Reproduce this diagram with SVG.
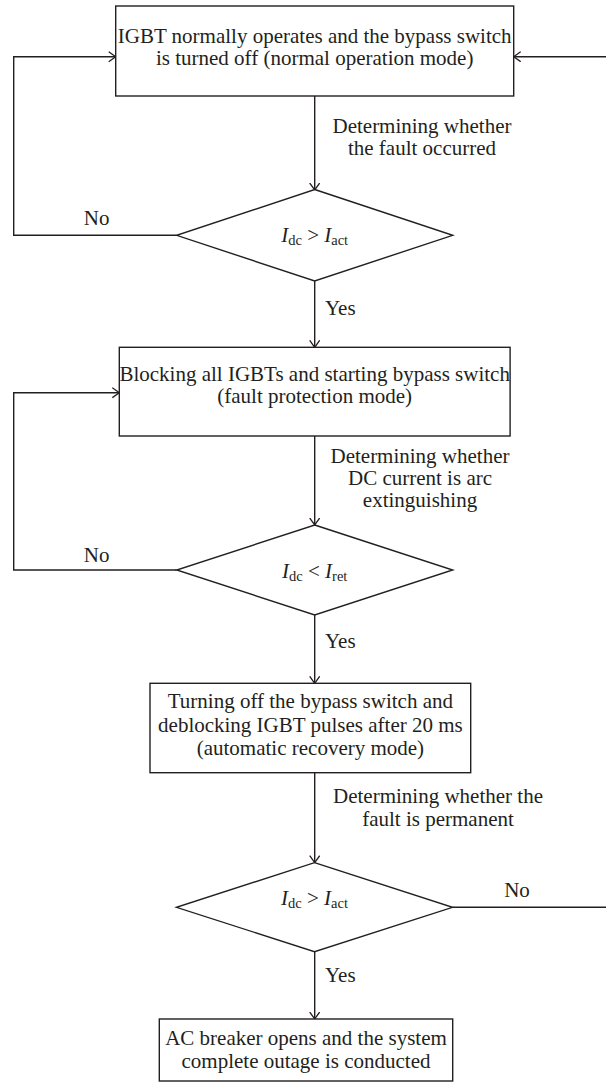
<svg xmlns="http://www.w3.org/2000/svg" width="606" height="1085" viewBox="0 0 606 1085">
<style>
.shape{fill:#fff;stroke:#231f20;stroke-width:1.4}
.conn{fill:none;stroke:#231f20;stroke-width:1.4}
text{font-family:"Liberation Serif","Times New Roman",serif;font-size:21px;fill:#231f20}
.c{text-anchor:middle}
.it{font-style:italic}
.sub{font-size:14.5px}
</style>
<defs>
<marker id="arr" markerUnits="userSpaceOnUse" markerWidth="10" markerHeight="12" refX="7.5" refY="5.5" orient="auto" viewBox="0 0 10 12">
<path d="M0.5,0.5 L7.5,5.5 L0.5,10.5" fill="none" stroke="#231f20" stroke-width="1.3"/>
</marker>
</defs>
<g id="connectors">
<line class="conn" x1="314.7" y1="96" x2="314.7" y2="190" marker-end="url(#arr)"/>
<polyline class="conn" points="176.7,235.3 13.7,235.3 13.7,56.7 115.7,56.7" marker-end="url(#arr)"/>
<line class="conn" x1="314.7" y1="281" x2="314.7" y2="347.3" marker-end="url(#arr)"/>
<line class="conn" x1="314.7" y1="436" x2="314.7" y2="525" marker-end="url(#arr)"/>
<polyline class="conn" points="176.7,570 13.7,570 13.7,392.7 119.3,392.7" marker-end="url(#arr)"/>
<line class="conn" x1="314.7" y1="615" x2="314.7" y2="683.3" marker-end="url(#arr)"/>
<line class="conn" x1="314.7" y1="772.7" x2="314.7" y2="862.7" marker-end="url(#arr)"/>
<line class="conn" x1="452.5" y1="907.3" x2="606" y2="907.3"/>
<line class="conn" x1="606" y1="56.7" x2="513.7" y2="56.7" marker-end="url(#arr)"/>
<line class="conn" x1="314.7" y1="951.7" x2="314.7" y2="1019" marker-end="url(#arr)"/>
<text x="422" y="133" class="c">Determining whether</text>
<text x="422" y="155" class="c">the fault occurred</text>
<text x="325" y="315">Yes</text>
<text x="96.7" y="225" class="c">No</text>
<text x="420" y="463" class="c">Determining whether</text>
<text x="420" y="485" class="c">DC current is arc</text>
<text x="420" y="507" class="c">extinguishing</text>
<text x="96.7" y="561.7" class="c">No</text>
<text x="325" y="648">Yes</text>
<text x="438" y="803" class="c">Determining whether the</text>
<text x="438" y="826" class="c">fault is permanent</text>
<text x="517" y="897" class="c">No</text>
<text x="325" y="982">Yes</text>
</g>
<g id="box1">
<rect class="shape" x="115.7" y="6" width="398" height="90"/>
<text x="314.7" y="43" class="c">IGBT normally operates and the bypass switch</text>
<text x="314.7" y="65" class="c">is turned off (normal operation mode)</text>
</g>
<g id="decision1">
<polygon class="shape" points="314.7,189.5 452.7,235.3 314.7,281 176.7,235.3"/>
<text x="314.7" y="242" class="c"><tspan class="it">I</tspan><tspan class="sub" dy="3">dc</tspan><tspan dy="-3"> &gt; </tspan><tspan class="it">I</tspan><tspan class="sub" dy="3">act</tspan></text>
</g>
<g id="box2">
<rect class="shape" x="119.3" y="347.3" width="390.8" height="88.7"/>
<text x="314.7" y="381" class="c">Blocking all IGBTs and starting bypass switch</text>
<text x="314.7" y="403" class="c">(fault protection mode)</text>
</g>
<g id="decision2">
<polygon class="shape" points="314.7,525 452.7,570 314.7,615 176.7,570"/>
<text x="314.7" y="578" class="c"><tspan class="it">I</tspan><tspan class="sub" dy="3">dc</tspan><tspan dy="-3"> &lt; </tspan><tspan class="it">I</tspan><tspan class="sub" dy="3">ret</tspan></text>
</g>
<g id="box3">
<rect class="shape" x="150" y="683.3" width="320.7" height="89.4"/>
<text x="310.4" y="708" class="c">Turning off the bypass switch and</text>
<text x="310.4" y="731.5" class="c">deblocking IGBT pulses after 20 ms</text>
<text x="310.4" y="755" class="c">(automatic recovery mode)</text>
</g>
<g id="decision3">
<polygon class="shape" points="314.5,862.7 452.5,907.3 314.5,951.7 176.5,907.3"/>
<text x="314.5" y="905" class="c"><tspan class="it">I</tspan><tspan class="sub" dy="3">dc</tspan><tspan dy="-3"> &gt; </tspan><tspan class="it">I</tspan><tspan class="sub" dy="3">act</tspan></text>
</g>
<g id="box4">
<rect class="shape" x="159.3" y="1019" width="293.4" height="62"/>
<text x="306" y="1045" class="c">AC breaker opens and the system</text>
<text x="306" y="1068" class="c">complete outage is conducted</text>
</g>
</svg>
